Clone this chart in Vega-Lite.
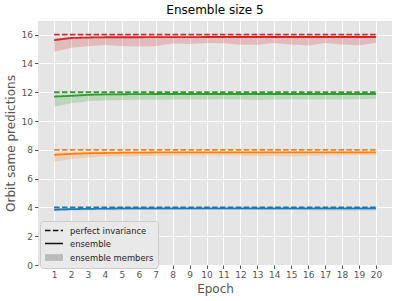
{
  "$schema": "https://vega.github.io/schema/vega-lite/v6.json",
  "autosize": {"type": "none"},
  "padding": {"left": 38, "top": 21, "right": 7, "bottom": 36},
  "width": 354,
  "height": 244,
  "background": "white",
  "config": {
    "view": {"fill": "#E5E5E5", "stroke": null},
    "font": "DejaVu Sans",
    "axis": {
      "domain": false,
      "grid": true,
      "gridColor": "white",
      "gridWidth": 1,
      "tickColor": "#555555",
      "tickSize": 3.5,
      "labelColor": "#555555",
      "labelFont": "DejaVu Sans",
      "labelFontSize": 9,
      "titleFont": "DejaVu Sans",
      "titleFontSize": 12,
      "titleFontWeight": "normal",
      "titleColor": "#555555"
    },
    "title": {"font": "DejaVu Sans", "fontSize": 12, "fontWeight": "normal", "color": "black"}
  },
  "title": {"text": "Ensemble size 5", "offset": 4},
  "datasets": {
    "runs": [
      {"series": "blue", "epoch": 1, "ens": 3.85, "lo": 3.72, "hi": 3.93, "perfect": 4},
      {"series": "blue", "epoch": 2, "ens": 3.88, "lo": 3.78, "hi": 3.94, "perfect": 4},
      {"series": "blue", "epoch": 3, "ens": 3.9, "lo": 3.8, "hi": 3.95, "perfect": 4},
      {"series": "blue", "epoch": 4, "ens": 3.92, "lo": 3.8, "hi": 3.96, "perfect": 4},
      {"series": "blue", "epoch": 5, "ens": 3.93, "lo": 3.8, "hi": 3.96, "perfect": 4},
      {"series": "blue", "epoch": 6, "ens": 3.93, "lo": 3.82, "hi": 3.96, "perfect": 4},
      {"series": "blue", "epoch": 7, "ens": 3.94, "lo": 3.82, "hi": 3.96, "perfect": 4},
      {"series": "blue", "epoch": 8, "ens": 3.94, "lo": 3.82, "hi": 3.96, "perfect": 4},
      {"series": "blue", "epoch": 9, "ens": 3.94, "lo": 3.83, "hi": 3.96, "perfect": 4},
      {"series": "blue", "epoch": 10, "ens": 3.94, "lo": 3.83, "hi": 3.96, "perfect": 4},
      {"series": "blue", "epoch": 11, "ens": 3.94, "lo": 3.83, "hi": 3.96, "perfect": 4},
      {"series": "blue", "epoch": 12, "ens": 3.94, "lo": 3.83, "hi": 3.96, "perfect": 4},
      {"series": "blue", "epoch": 13, "ens": 3.94, "lo": 3.82, "hi": 3.96, "perfect": 4},
      {"series": "blue", "epoch": 14, "ens": 3.94, "lo": 3.82, "hi": 3.96, "perfect": 4},
      {"series": "blue", "epoch": 15, "ens": 3.94, "lo": 3.82, "hi": 3.96, "perfect": 4},
      {"series": "blue", "epoch": 16, "ens": 3.94, "lo": 3.8, "hi": 3.96, "perfect": 4},
      {"series": "blue", "epoch": 17, "ens": 3.94, "lo": 3.78, "hi": 3.96, "perfect": 4},
      {"series": "blue", "epoch": 18, "ens": 3.94, "lo": 3.78, "hi": 3.96, "perfect": 4},
      {"series": "blue", "epoch": 19, "ens": 3.94, "lo": 3.78, "hi": 3.96, "perfect": 4},
      {"series": "blue", "epoch": 20, "ens": 3.94, "lo": 3.78, "hi": 3.96, "perfect": 4},
      {"series": "orange", "epoch": 1, "ens": 7.65, "lo": 7.18, "hi": 7.8, "perfect": 8},
      {"series": "orange", "epoch": 2, "ens": 7.72, "lo": 7.37, "hi": 7.84, "perfect": 8},
      {"series": "orange", "epoch": 3, "ens": 7.76, "lo": 7.46, "hi": 7.85, "perfect": 8},
      {"series": "orange", "epoch": 4, "ens": 7.78, "lo": 7.53, "hi": 7.86, "perfect": 8},
      {"series": "orange", "epoch": 5, "ens": 7.8, "lo": 7.56, "hi": 7.86, "perfect": 8},
      {"series": "orange", "epoch": 6, "ens": 7.8, "lo": 7.57, "hi": 7.86, "perfect": 8},
      {"series": "orange", "epoch": 7, "ens": 7.82, "lo": 7.58, "hi": 7.86, "perfect": 8},
      {"series": "orange", "epoch": 8, "ens": 7.82, "lo": 7.6, "hi": 7.87, "perfect": 8},
      {"series": "orange", "epoch": 9, "ens": 7.82, "lo": 7.6, "hi": 7.87, "perfect": 8},
      {"series": "orange", "epoch": 10, "ens": 7.83, "lo": 7.62, "hi": 7.87, "perfect": 8},
      {"series": "orange", "epoch": 11, "ens": 7.83, "lo": 7.62, "hi": 7.87, "perfect": 8},
      {"series": "orange", "epoch": 12, "ens": 7.83, "lo": 7.6, "hi": 7.87, "perfect": 8},
      {"series": "orange", "epoch": 13, "ens": 7.83, "lo": 7.58, "hi": 7.87, "perfect": 8},
      {"series": "orange", "epoch": 14, "ens": 7.83, "lo": 7.55, "hi": 7.87, "perfect": 8},
      {"series": "orange", "epoch": 15, "ens": 7.83, "lo": 7.53, "hi": 7.87, "perfect": 8},
      {"series": "orange", "epoch": 16, "ens": 7.83, "lo": 7.58, "hi": 7.87, "perfect": 8},
      {"series": "orange", "epoch": 17, "ens": 7.83, "lo": 7.62, "hi": 7.87, "perfect": 8},
      {"series": "orange", "epoch": 18, "ens": 7.83, "lo": 7.63, "hi": 7.87, "perfect": 8},
      {"series": "orange", "epoch": 19, "ens": 7.83, "lo": 7.64, "hi": 7.87, "perfect": 8},
      {"series": "orange", "epoch": 20, "ens": 7.83, "lo": 7.65, "hi": 7.87, "perfect": 8},
      {"series": "green", "epoch": 1, "ens": 11.7, "lo": 11.0, "hi": 11.82, "perfect": 12},
      {"series": "green", "epoch": 2, "ens": 11.75, "lo": 11.24, "hi": 11.85, "perfect": 12},
      {"series": "green", "epoch": 3, "ens": 11.82, "lo": 11.38, "hi": 11.88, "perfect": 12},
      {"series": "green", "epoch": 4, "ens": 11.85, "lo": 11.45, "hi": 11.89, "perfect": 12},
      {"series": "green", "epoch": 5, "ens": 11.86, "lo": 11.47, "hi": 11.9, "perfect": 12},
      {"series": "green", "epoch": 6, "ens": 11.87, "lo": 11.48, "hi": 11.9, "perfect": 12},
      {"series": "green", "epoch": 7, "ens": 11.88, "lo": 11.48, "hi": 11.9, "perfect": 12},
      {"series": "green", "epoch": 8, "ens": 11.88, "lo": 11.5, "hi": 11.9, "perfect": 12},
      {"series": "green", "epoch": 9, "ens": 11.88, "lo": 11.5, "hi": 11.9, "perfect": 12},
      {"series": "green", "epoch": 10, "ens": 11.88, "lo": 11.5, "hi": 11.9, "perfect": 12},
      {"series": "green", "epoch": 11, "ens": 11.88, "lo": 11.52, "hi": 11.9, "perfect": 12},
      {"series": "green", "epoch": 12, "ens": 11.88, "lo": 11.5, "hi": 11.9, "perfect": 12},
      {"series": "green", "epoch": 13, "ens": 11.88, "lo": 11.47, "hi": 11.9, "perfect": 12},
      {"series": "green", "epoch": 14, "ens": 11.88, "lo": 11.5, "hi": 11.9, "perfect": 12},
      {"series": "green", "epoch": 15, "ens": 11.88, "lo": 11.52, "hi": 11.9, "perfect": 12},
      {"series": "green", "epoch": 16, "ens": 11.88, "lo": 11.5, "hi": 11.9, "perfect": 12},
      {"series": "green", "epoch": 17, "ens": 11.88, "lo": 11.5, "hi": 11.9, "perfect": 12},
      {"series": "green", "epoch": 18, "ens": 11.88, "lo": 11.5, "hi": 11.9, "perfect": 12},
      {"series": "green", "epoch": 19, "ens": 11.88, "lo": 11.52, "hi": 11.9, "perfect": 12},
      {"series": "green", "epoch": 20, "ens": 11.88, "lo": 11.55, "hi": 11.9, "perfect": 12},
      {"series": "red", "epoch": 1, "ens": 15.62, "lo": 14.82, "hi": 15.75, "perfect": 16},
      {"series": "red", "epoch": 2, "ens": 15.77, "lo": 15.1, "hi": 15.82, "perfect": 16},
      {"series": "red", "epoch": 3, "ens": 15.8, "lo": 15.2, "hi": 15.84, "perfect": 16},
      {"series": "red", "epoch": 4, "ens": 15.82, "lo": 15.28, "hi": 15.85, "perfect": 16},
      {"series": "red", "epoch": 5, "ens": 15.82, "lo": 15.22, "hi": 15.85, "perfect": 16},
      {"series": "red", "epoch": 6, "ens": 15.82, "lo": 15.17, "hi": 15.85, "perfect": 16},
      {"series": "red", "epoch": 7, "ens": 15.83, "lo": 15.2, "hi": 15.86, "perfect": 16},
      {"series": "red", "epoch": 8, "ens": 15.83, "lo": 15.38, "hi": 15.86, "perfect": 16},
      {"series": "red", "epoch": 9, "ens": 15.83, "lo": 15.35, "hi": 15.86, "perfect": 16},
      {"series": "red", "epoch": 10, "ens": 15.84, "lo": 15.42, "hi": 15.86, "perfect": 16},
      {"series": "red", "epoch": 11, "ens": 15.84, "lo": 15.4, "hi": 15.86, "perfect": 16},
      {"series": "red", "epoch": 12, "ens": 15.84, "lo": 15.3, "hi": 15.86, "perfect": 16},
      {"series": "red", "epoch": 13, "ens": 15.84, "lo": 15.3, "hi": 15.86, "perfect": 16},
      {"series": "red", "epoch": 14, "ens": 15.84, "lo": 15.42, "hi": 15.86, "perfect": 16},
      {"series": "red", "epoch": 15, "ens": 15.84, "lo": 15.32, "hi": 15.86, "perfect": 16},
      {"series": "red", "epoch": 16, "ens": 15.84, "lo": 15.25, "hi": 15.86, "perfect": 16},
      {"series": "red", "epoch": 17, "ens": 15.84, "lo": 15.42, "hi": 15.86, "perfect": 16},
      {"series": "red", "epoch": 18, "ens": 15.84, "lo": 15.32, "hi": 15.86, "perfect": 16},
      {"series": "red", "epoch": 19, "ens": 15.84, "lo": 15.26, "hi": 15.86, "perfect": 16},
      {"series": "red", "epoch": 20, "ens": 15.84, "lo": 15.42, "hi": 15.86, "perfect": 16}
    ]
  },
  "data": {"name": "runs"},
  "encoding": {
    "x": {
      "field": "epoch",
      "type": "quantitative",
      "title": "Epoch",
      "scale": {"domain": [0.05, 20.95], "nice": false, "zero": false},
      "axis": {"values": [1,2,3,4,5,6,7,8,9,10,11,12,13,14,15,16,17,18,19,20], "labelFlush": false, "titlePadding": 4}
    },
    "color": {
      "field": "series",
      "type": "nominal",
      "legend": null,
      "scale": {"domain": ["blue", "orange", "green", "red"], "range": ["#1f77b4", "#ff7f0e", "#2ca02c", "#d62728"]}
    }
  },
  "layer": [
    {
      "mark": {"type": "area", "opacity": 0.22},
      "encoding": {
        "y": {
          "field": "lo",
          "type": "quantitative",
          "title": "Orbit same predictions",
          "scale": {"domain": [0, 16.95], "nice": false},
          "axis": {"values": [0, 2, 4, 6, 8, 10, 12, 14, 16], "titlePadding": 4, "labelOverlap": false}
        },
        "y2": {"field": "hi"}
      }
    },
    {
      "transform": [{"fold": ["perfect", "ens"], "as": ["kind", "value"]}],
      "mark": {"type": "line", "strokeWidth": 1.8},
      "encoding": {
        "y": {
          "field": "value",
          "type": "quantitative",
          "title": "Orbit same predictions",
          "scale": {"domain": [0, 16.95], "nice": false},
          "axis": {"values": [0, 2, 4, 6, 8, 10, 12, 14, 16], "titlePadding": 4, "labelOverlap": false}
        },
        "detail": {"field": "kind"},
        "strokeDash": {
          "field": "kind",
          "type": "nominal",
          "scale": {"domain": ["perfect", "ens", "members"], "range": [[5.5, 2.4], [1, 0], [1, 0]]},
          "legend": {
            "title": null,
            "orient": "none",
            "legendX": 2,
            "legendY": 200,
            "symbolType": "M-1,0H3",
            "symbolSize": 81,
            "symbolStrokeWidth": 1.5,
            "labelFont": "DejaVu Sans",
            "labelFontSize": 8.4,
            "labelColor": "#222222",
            "labelOffset": 15,
            "rowPadding": 3,
            "padding": 4,
            "fillColor": "#E9E9E9",
            "strokeColor": "#CCCCCC",
            "cornerRadius": 3,
            "labelExpr": "datum.value == 'perfect' ? 'perfect invariance' : datum.value == 'ens' ? 'ensemble' : 'ensemble members'",
            "encode": {
              "symbols": {
                "update": {
                  "shape": {"signal": "datum.value == 'members' ? 'M-1,-0.75H3V0.75H-1Z' : 'M-1,0H3'"},
                  "stroke": {"signal": "datum.value == 'members' ? 'transparent' : '#111111'"},
                  "fill": {"signal": "datum.value == 'members' ? '#BBBBBB' : 'transparent'"},
                  "strokeWidth": {"value": 1.5}
                }
              }
            }
          }
        }
      }
    }
  ]
}
